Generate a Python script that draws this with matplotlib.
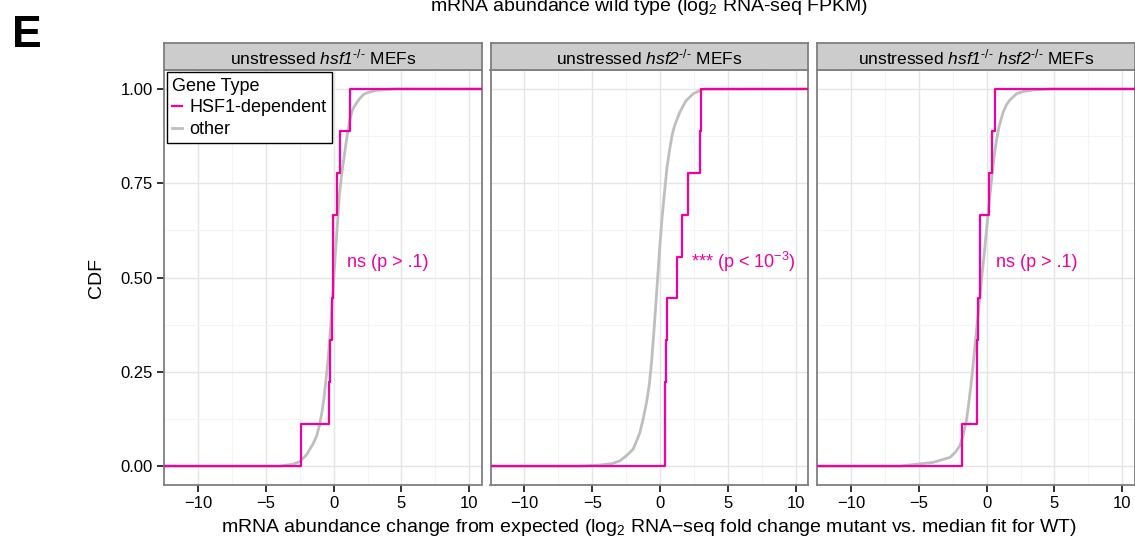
import numpy as np
import matplotlib.pyplot as plt
from matplotlib.lines import Line2D
from matplotlib.ticker import MultipleLocator, FormatStrFormatter

plt.rcParams["font.family"] = "Liberation Sans"
plt.rcParams["mathtext.fontset"] = "custom"
plt.rcParams["mathtext.rm"] = "Liberation Sans"
plt.rcParams["mathtext.it"] = "Liberation Sans:italic"
# sf slot used for italic gene names so the digits stay italic too
plt.rcParams["mathtext.sf"] = "Liberation Sans:italic"

# facet strips
panel_titles = [
    r"unstressed $\mathsf{hsf1}^{\text{-/-}}$ MEFs",
    r"unstressed $\mathsf{hsf2}^{\text{-/-}}$ MEFs",
    r"unstressed $\mathsf{hsf1}^{\text{-/-}}$ $\mathsf{hsf2}^{\text{-/-}}$ MEFs",
]

# HSF1-dependent genes (9 per panel), fold change
hsf1_dep = [
    [-2.40, -0.32, -0.24, -0.15, -0.07, -0.02, 0.22, 0.47, 1.21],
    [0.35, 0.37, 0.42, 0.54, 1.25, 1.65, 2.06, 2.92, 3.05],
    [-1.79, -0.74, -0.73, -0.62, -0.49, -0.48, 0.19, 0.37, 0.61],
]

# "other" genes, CDF curve
other_x = [
    [-12.5, -4.0, -3.0, -2.5, -2.0, -1.5, -1.25, -1.05, -0.85, -0.69, -0.5,
     -0.32, -0.07, 0.05, 0.17, 0.3, 0.42, 0.6, 0.79, 0.97, 1.16, 1.35, 1.5,
     1.89, 2.2, 2.5, 3.12, 4.6, 10.9],
    [-12.5, -6.0, -4.44, -3.5, -2.97, -2.5, -1.99, -1.75, -1.49, -1.25, -1.0,
     -0.8, -0.63, -0.45, -0.27, -0.02, 0.15, 0.35, 0.5, 0.71, 0.9, 1.05, 1.2,
     1.45, 1.7, 1.9, 2.1, 2.43, 3.17, 10.9],
    [-12.5, -6.4, -3.93, -2.70, -2.3, -1.97, -1.7, -1.47, -1.3, -1.10, -0.92,
     -0.74, -0.55, -0.37, -0.18, 0.0, 0.18, 0.37, 0.55, 0.74, 0.95, 1.22,
     1.45, 1.7, 2.21, 2.7, 3.43, 4.9, 10.9],
]
other_cdf = [
    [0.0, 0.0, 0.005, 0.012, 0.03, 0.06, 0.08, 0.107, 0.145, 0.186, 0.25,
     0.319, 0.452, 0.52, 0.584, 0.65, 0.717, 0.775, 0.823, 0.87, 0.912, 0.94,
     0.952, 0.973, 0.985, 0.99, 0.996, 1.0, 1.0],
    [0.0, 0.0, 0.003, 0.007, 0.014, 0.027, 0.045, 0.065, 0.089, 0.125, 0.169,
     0.215, 0.275, 0.36, 0.452, 0.584, 0.66, 0.735, 0.79, 0.841, 0.88, 0.900,
     0.915, 0.938, 0.955, 0.968, 0.975, 0.987, 0.999, 1.0],
    [0.0, 0.0, 0.01, 0.023, 0.037, 0.054, 0.085, 0.125, 0.17, 0.231, 0.295,
     0.363, 0.43, 0.496, 0.56, 0.629, 0.695, 0.761, 0.82, 0.867, 0.905, 0.938,
     0.957, 0.970, 0.987, 0.993, 0.997, 1.0, 1.0],
]

annot_text = ["ns (p > .1)", r"*** (p < 10$^{\mathregular{-3}}$)", "ns (p > .1)"]
annot_x = [1.0, 2.3, 0.72]
annot_y = 0.54

pink = "#F000A0"
grey_line = "#BEBEBE"
xlim = (-12.5, 10.9)

W, H = 1135, 541
fig = plt.figure(figsize=(W / 100, H / 100), dpi=100)

lefts = [164, 490.5, 817]
pw = 317.5
pbot, ptop = 485, 70
strip_top = 43

for i in range(3):
    ax = fig.add_axes([lefts[i] / W, 1 - pbot / H, pw / W, (pbot - ptop) / H])
    ax.set_xlim(*xlim)
    ax.set_ylim(-0.05, 1.05)

    ax.xaxis.set_major_locator(MultipleLocator(5))
    ax.xaxis.set_minor_locator(MultipleLocator(2.5))
    ax.yaxis.set_major_locator(MultipleLocator(0.25))
    ax.yaxis.set_minor_locator(MultipleLocator(0.125))
    ax.grid(which="major", color="#E5E5E5", lw=1.0)
    ax.grid(which="minor", color="#F4F4F4", lw=0.8)
    ax.set_axisbelow(True)
    for s in ax.spines.values():
        s.set_color("#7F7F7F")
        s.set_linewidth(1.3)

    ax.tick_params(which="minor", length=0)
    ax.tick_params(axis="x", which="major", length=5, width=1.4, color="#333333",
                   labelsize=12, pad=3)
    if i == 0:
        ax.yaxis.set_major_formatter(FormatStrFormatter("%.2f"))
        ax.tick_params(axis="y", which="major", length=5, width=1.4,
                       color="#333333", labelsize=12, pad=3)
    else:
        ax.tick_params(axis="y", which="major", length=0, labelleft=False)

    ax.plot(other_x[i], other_cdf[i], color=grey_line, lw=2.0,
            solid_capstyle="butt", solid_joinstyle="round", zorder=2)

    vals = sorted(hsf1_dep[i])
    n = len(vals)
    xs = [xlim[0]] + vals + [xlim[1]]
    ys = [0.0] + [(k + 1) / n for k in range(n)] + [1.0]
    ax.step(xs, ys, where="post", color=pink, lw=1.6, zorder=3)

    ax.text(annot_x[i], annot_y, annot_text[i], color=pink, fontsize=13,
            ha="left", va="center", zorder=4)

    if i == 0:
        handles = [Line2D([], [], color=pink, lw=1.6),
                   Line2D([], [], color=grey_line, lw=2.0)]
        leg = ax.legend(handles, ["HSF1-dependent", "other"], title="Gene Type",
                        loc="upper left", bbox_to_anchor=(0.008, 0.994),
                        fontsize=13, title_fontsize=13, frameon=True,
                        fancybox=False, edgecolor="black", framealpha=1,
                        borderaxespad=0, borderpad=0.3, handlelength=0.55,
                        handletextpad=0.4, labelspacing=0.25,
                        alignment="left")
        leg.get_frame().set_linewidth(1.0)

    # strip
    sax = fig.add_axes([lefts[i] / W, 1 - ptop / H, pw / W, (ptop - strip_top) / H])
    sax.set_facecolor("#CCCCCC")
    sax.set_xticks([])
    sax.set_yticks([])
    for s in sax.spines.values():
        s.set_color("#7F7F7F")
        s.set_linewidth(1.3)
    sax.text(0.5, 0.45, panel_titles[i], transform=sax.transAxes, ha="center",
             va="center", fontsize=12.5)

fig.text(649 / W, 1 - 11 / H, r"mRNA abundance wild type (log$_2$ RNA-seq FPKM)",
         ha="center", va="baseline", fontsize=14)
fig.text(649 / W, 1 - 527 / H,
         "mRNA abundance change from expected (log$_2$ RNA\u2212seq fold change "
         "mutant vs. median fit for WT)",
         ha="center", va="center", fontsize=14)
fig.text(97 / W, 1 - 278 / H, "CDF", rotation=90, ha="center", va="center",
         fontsize=14)
fig.text(12 / W, 1 - 47 / H, "E", fontsize=32, fontweight="bold", ha="left",
         va="baseline")

fig.savefig("out.png", dpi=100)
